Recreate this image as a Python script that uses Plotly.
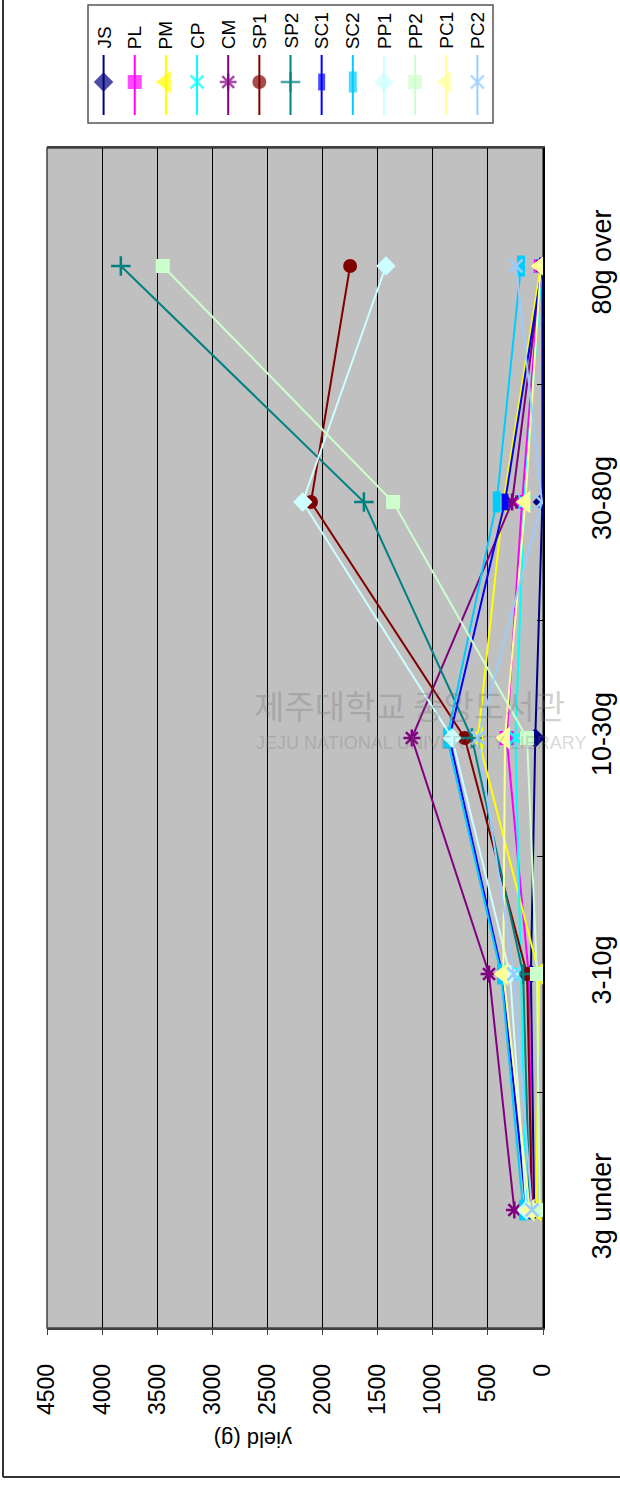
import plotly.graph_objects as go

# ---------------- data ----------------
categories = ["3g under", "3-10g", "10-30g", "30-80g", "80g over"]
series_names = ["JS", "PL", "PM", "CP", "CM", "SP1", "SP2", "SC1", "SC2", "PP1", "PP2", "PC1", "PC2"]

JS = [80, 110, 70, 5, 5]
PL = [100, 130, 330, 190, 20]
PM = [60, 35, 590, 360, 20]
CP = [150, 200, 250, 170, 10]
CM = [260, 490, 1190, 280, 10]
SP1 = [100, 145, 710, 2105, 1750]
SP2 = [120, 180, 645, 1625, 3830]
SC1 = [150, 370, 850, 345, 5]
SC2 = [180, 380, 870, 420, 200]
PP1 = [150, 300, 825, 2180, 1425]
PP2 = [30, 55, 145, 1360, 3450]
PC1 = [120, 360, 345, 160, 20]
PC2 = [100, 265, 590, 10, 245]

value_ticks = [0, 500, 1000, 1500, 2000, 2500, 3000, 3500, 4000, 4500]
axis_title = "yield (g)"

series_values = [JS, PL, PM, CP, CM, SP1, SP2, SC1, SC2, PP1, PP2, PC1, PC2]

# ---------------- styles ----------------
W, H = 620, 1488
FONT = "Liberation Sans, Arial, sans-serif"

styles = {
    "JS":  dict(color="#000080", symbol="diamond", size=15, lw=0),
    "PL":  dict(color="#FF00FF", symbol="square", size=14, lw=0),
    "PM":  dict(color="#FFFF00", symbol="triangle-left", size=20, lw=0),
    "CP":  dict(color="#00FFFF", symbol="x-thin-open", size=13, lw=2.5),
    "CM":  dict(color="#800080", symbol="asterisk-open", size=14, lw=2.5),
    "SP1": dict(color="#800000", symbol="circle", size=14, lw=0),
    "SP2": dict(color="#008080", symbol="cross-thin-open", size=14, lw=2.5),
    "SC1": dict(color="#0000FF", symbol="line-ns-open", size=12, lw=7),
    "SC2": dict(color="#00CCFF", symbol="line-ns-open", size=15, lw=8),
    "PP1": dict(color="#CCFFFF", symbol="diamond", size=15, lw=0),
    "PP2": dict(color="#CCFFCC", symbol="square", size=14, lw=0),
    "PC1": dict(color="#FFFF99", symbol="triangle-left", size=20, lw=0),
    "PC2": dict(color="#99CCFF", symbol="x-thin-open", size=13, lw=2.5),
}

# plot area in pixels
PX0, PX1 = 47, 543
PY0, PY1 = 148, 1328

def px(x):
    return x / W

def py(y):
    return 1 - y / H

fig = go.Figure()

for name, vals in zip(series_names, series_values):
    s = styles[name]
    fig.add_trace(go.Scatter(
        x=vals, y=categories, mode="lines+markers", name=name,
        line=dict(color=s["color"], width=2),
        marker=dict(symbol=s["symbol"], size=s["size"], color=s["color"],
                    line=dict(color=s["color"], width=s["lw"])),
        showlegend=False, xaxis="x", yaxis="y",
    ))

# ---------------- custom rotated legend ----------------
LX0, LX1, LY0, LY1 = 88, 493, 5, 123
for i, name in enumerate(series_names):
    s = styles[name]
    fig.add_trace(go.Scatter(
        x=[i + 0.5] * 3, y=[55, 82, 115], mode="lines+markers",
        line=dict(color=s["color"], width=2),
        marker=dict(symbol=s["symbol"], size=[0, s["size"], 0], color=s["color"],
                    line=dict(color=s["color"], width=s["lw"])),
        showlegend=False, hoverinfo="skip", xaxis="x2", yaxis="y2",
    ))

annotations = []
for i, name in enumerate(series_names):
    annotations.append(dict(
        x=px(LX0 + (LX1 - LX0) * (i + 0.5) / len(series_names)), y=py(51),
        xref="paper", yref="paper", text=name, textangle=-90, showarrow=False,
        xanchor="center", yanchor="bottom",
        font=dict(family=FONT, size=19, color="black"),
    ))

# axis title (upside down)
annotations.append(dict(
    x=px(253), y=py(1440), xref="paper", yref="paper", text=axis_title,
    textangle=180, showarrow=False, xanchor="center", yanchor="middle",
    font=dict(family=FONT, size=22, color="black"),
))

# faint watermark
annotations.append(dict(
    x=px(252), y=py(705), xref="paper", yref="paper", text="제주대학교 중앙도서관",
    showarrow=False, xanchor="left", yanchor="middle",
    font=dict(family="Noto Sans CJK KR", size=33, color="rgba(120,120,120,0.35)"),
))
annotations.append(dict(
    x=px(254), y=py(743), xref="paper", yref="paper", text="JEJU NATIONAL UNIVERSITY LIBRARY",
    showarrow=False, xanchor="left", yanchor="middle",
    font=dict(family=FONT, size=18, color="rgba(120,120,120,0.3)"),
))

shapes = [
    # legend box
    dict(type="rect", xref="paper", yref="paper", x0=px(LX0), x1=px(LX1), y0=py(LY1), y1=py(LY0),
         line=dict(color="#555555", width=1.5), fillcolor="white", layer="below"),
    # outer frame (left and bottom)
    dict(type="line", xref="paper", yref="paper", x0=px(3), x1=px(3), y0=py(0), y1=py(1477),
         line=dict(color="#333333", width=2)),
    dict(type="line", xref="paper", yref="paper", x0=px(3), x1=px(620), y0=py(1477), y1=py(1477),
         line=dict(color="#333333", width=2)),
    # plot area border
    dict(type="rect", xref="paper", yref="paper", x0=px(PX0), x1=px(PX1), y0=py(PY1), y1=py(PY0),
         line=dict(color="#404040", width=1.5), layer="below"),
]

fig.update_layout(
    width=W, height=H, autosize=False,
    margin=dict(l=0, r=0, t=0, b=0),
    paper_bgcolor="white", plot_bgcolor="#C0C0C0",
    font=dict(family=FONT, color="black"),
    xaxis=dict(
        domain=[px(PX0), px(PX1)], range=[4500, 0], autorange=False,
        tickvals=value_ticks, ticktext=[str(v) for v in value_ticks],
        tickangle=-90, tickfont=dict(size=23, family=FONT),
        ticks="outside", ticklen=5, tickcolor="#404040",
        showgrid=True, gridcolor="black", gridwidth=1,
        showline=True, linecolor="#404040", linewidth=1.5, mirror=True,
        zeroline=False, automargin=False, ticklabelstandoff=20,
        anchor="y",
    ),
    yaxis=dict(
        domain=[py(PY1), py(PY0)], type="category",
        categoryorder="array", categoryarray=categories,
        range=[-0.5, 4.5], autorange=False, side="right",
        tickangle=-90, tickfont=dict(size=27, family=FONT),
        ticks="inside", ticklen=6, tickcolor="black", tickson="boundaries",
        showgrid=False, showline=True, linecolor="black", linewidth=2,
        zeroline=False, automargin=False, ticklabelstandoff=34,
        anchor="x",
    ),
    xaxis2=dict(domain=[px(LX0), px(LX1)], range=[0, len(series_names)], visible=False,
                anchor="y2", fixedrange=True),
    yaxis2=dict(domain=[py(LY1), py(LY0)], range=[LY1, LY0], visible=False,
                anchor="x2", fixedrange=True),
    annotations=annotations,
    shapes=shapes,
)

fig.write_html("out.html")
